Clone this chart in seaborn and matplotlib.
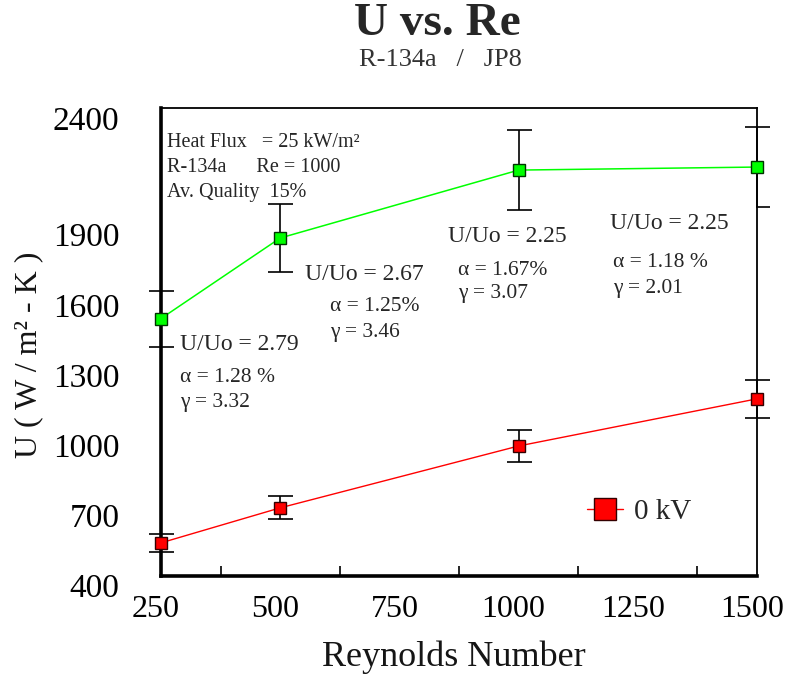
import matplotlib
matplotlib.use("Agg")
import matplotlib.pyplot as plt
from matplotlib.ticker import FixedLocator
from matplotlib.transforms import ScaledTranslation
import seaborn as sns
import pandas as pd

# ---- data ----
re_values = [250, 500, 1000, 1500]
u_green = [1541, 1886, 2177, 2190]
err_green = [120, 145, 173, 171]
u_red = [580, 730, 995, 1197]
err_red = [39, 49, 67, 81]
x_ticks = [250, 500, 750, 1000, 1250, 1500]
x_minor = [375, 625, 875, 1125, 1375]
y_ticks = [400, 700, 1000, 1300, 1600, 1900, 2400]

sns.set_theme(style="white")
plt.rcParams['font.family'] = ['Liberation Serif', 'DejaVu Serif']
plt.rcParams['mathtext.fontset'] = 'stix'

W, H = 786, 674
fig = plt.figure(figsize=(W / 100, H / 100), dpi=100)
L, R, T, B = 161, 757, 108, 576
ax = fig.add_axes([L / W, 1 - B / H, (R - L) / W, (B - T) / H])

df_g = pd.DataFrame({"Re": re_values, "U": u_green})
df_r = pd.DataFrame({"Re": re_values, "U": u_red})

ax.errorbar(re_values, u_green, yerr=err_green, fmt='none', ecolor='black',
            elinewidth=1.2, capsize=9, capthick=1.2, zorder=2, clip_on=False)
ax.errorbar(re_values, u_red, yerr=err_red, fmt='none', ecolor='black',
            elinewidth=1.2, capsize=9, capthick=1.2, zorder=2, clip_on=False)

sns.lineplot(data=df_g, x="Re", y="U", ax=ax, color='#00ff00', lw=1.1,
             marker='s', markersize=8, markerfacecolor='#00ff00',
             markeredgecolor='#003300', markeredgewidth=1.0,
             label='_nolegend_', zorder=4, clip_on=False)
sns.lineplot(data=df_r, x="Re", y="U", ax=ax, color='#ff0000', lw=1.0,
             marker='s', markersize=8, markerfacecolor='#ff0000',
             markeredgecolor='#330000', markeredgewidth=1.0,
             label='0 kV', zorder=4, clip_on=False)

ax.set_xticks(x_ticks)
ax.set_xticklabels([str(v) for v in x_ticks], fontsize=23)
ax.xaxis.set_minor_locator(FixedLocator(x_minor))
ax.tick_params(axis='x', which='major', length=0, pad=14)
ax.tick_params(axis='x', which='minor', direction='in', length=7, width=1.2,
               color='black', bottom=True)
shift = ScaledTranslation(-5 / 100, 0, fig.dpi_scale_trans)
for lab in ax.get_xticklabels():
    lab.set_transform(lab.get_transform() + shift)

ax.set_yticks(y_ticks)
ax.set_yticklabels([str(v) for v in y_ticks], fontsize=24)
ax.tick_params(axis='y', length=0, pad=30)
for lab in ax.get_xticklabels() + ax.get_yticklabels():
    lab.set_color('black')

# limits set after the ticks so the view is not widened to include them
ax.set_xlim(250, 1500)
ax.set_ylim(438, 2443)

# lowest y label sits just below the frame in the reference
trans, va, ha = ax.get_yaxis_text1_transform(30)
ax.text(0, y_ticks[0], str(y_ticks[0]), transform=trans, va=va, ha=ha,
        fontsize=24, color='black', clip_on=False)

ax.set_xlabel("Reynolds Number", fontsize=26, color='#151515')
ax.xaxis.set_label_coords((454 - L) / (R - L), (B - 640) / (B - T))
ax.set_ylabel("U ( W / m² - K )", fontsize=23, color='#151515')
ax.yaxis.set_label_coords((43 - L) / (R - L), (B - 355) / (B - T))

for s in ['left', 'bottom']:
    ax.spines[s].set_linewidth(2.6)
    ax.spines[s].set_color('black')
for s in ['top', 'right']:
    ax.spines[s].set_linewidth(1.3)
    ax.spines[s].set_color('black')

leg = ax.legend(loc='center left', bbox_to_anchor=(587 / W, 1 - 512 / H),
                bbox_transform=fig.transFigure, frameon=False, fontsize=21,
                handlelength=1.25, markerscale=2.0, handletextpad=0.35,
                borderpad=0, borderaxespad=0)

fig.text(437 / W, 1 - 24 / H, "U vs. Re", fontsize=34, fontweight='bold',
         ha='center', va='center')
fig.text(440 / W, 1 - 60 / H, "R-134a   /   JP8", fontsize=19, color='#333333',
         ha='center', va='center')


def ptext(px, py, s, size, **kw):
    return fig.text(px / W, 1 - py / H, s, fontsize=size, ha='left', va='baseline', **kw)


ptext(167, 147, "Heat Flux   = 25 kW/m²", 14.5)
ptext(167, 172, "R-134a      Re = 1000", 14.5)
ptext(167, 197, "Av. Quality  15%", 14.5)

ptext(180, 350, "U/Uo = 2.79", 17)
ptext(180, 382, "α = 1.28 %", 15.5)
ptext(180, 407, "γ = 3.32", 15.5)

ptext(305, 280, "U/Uo = 2.67", 17)
ptext(330, 311, "α = 1.25%", 15.5)
ptext(330, 337, "γ = 3.46", 15.5)

ptext(448, 242, "U/Uo = 2.25", 17)
ptext(458, 275, "α = 1.67%", 15.5)
ptext(458, 298, "γ = 3.07", 15.5)

t = ptext(610, 229, "U/Uo = 2.25   ", 17)
t.set_bbox(dict(facecolor='white', edgecolor='none', pad=7))
t.set_zorder(5)
ptext(613, 267, "α = 1.18 %", 15.5)
ptext(613, 293, "γ = 2.01", 15.5)

fig.savefig("out.png", dpi=100)
